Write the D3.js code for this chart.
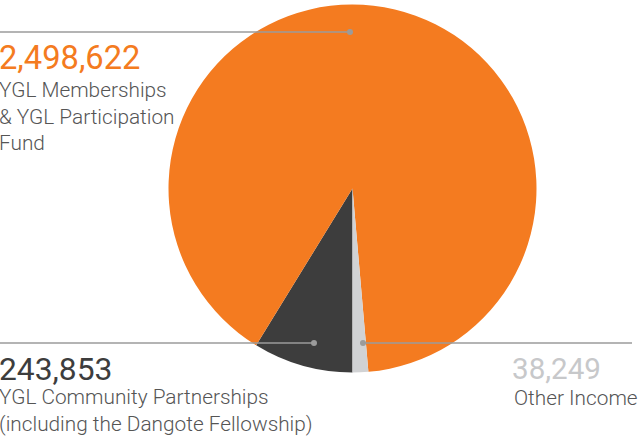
<!DOCTYPE html>
<html>
<head>
<meta charset="utf-8">
<script src="https://cdn.jsdelivr.net/npm/d3@7"></script>
<style>
  body { margin: 0; background: #fff; }
  svg { display: block; }
  .num { font-family: Roboto, "Liberation Sans", sans-serif; font-weight: 400; }
  .lbl { font-family: Roboto, "Liberation Sans", sans-serif; font-weight: 300; font-size: 20.8px; fill: #555; }
</style>
</head>
<body>
<div id="chart"></div>
<script>
// income sources, in pie order (clockwise from the bottom)
var categories = ["YGL Community Partnerships", "YGL Memberships & YGL Participation Fund", "Other Income"];
var values = [243853, 2498622, 38249];
var colors = ["#3d3d3d", "#f47b20", "#d1d2d4"];
var numberColors = ["#3d3d3d", "#f47b20", "#c7c8ca"];
var labelLines = [
    ["YGL Community Partnerships", "(including the Dangote Fellowship)"],
    ["YGL Memberships", "& YGL Participation", "Fund"],
    ["Other Income"]
];

var width = 641, height = 439;
var cx = 352.5, cy = 188.5, radius = 184;

// where each callout sits: leader line, dot and text block
var callouts = [
    { x1: 0, x2: 314, y: 343, dot: 314, tx: -1, ty: 380, size: 31.8, lx: -1, ly: 404 },
    { x1: 0, x2: 350, y: 32, dot: 350, tx: -1, ty: 69, size: 32.7, lx: -1, ly: 97 },
    { x1: 363, x2: 632, y: 343, dot: 363, tx: 512, ty: 379, size: 29.6, lx: 514, ly: 405 }
];

var svg = d3.select("#chart").append("svg")
    .attr("width", width)
    .attr("height", height);

var pie = d3.pie()
    .sort(null)
    .startAngle(Math.PI)
    .endAngle(3 * Math.PI);

var arc = d3.arc()
    .innerRadius(0)
    .outerRadius(radius);

svg.append("g")
    .attr("transform", "translate(" + cx + "," + cy + ")")
  .selectAll("path")
    .data(pie(values))
  .enter().append("path")
    .attr("d", arc)
    .attr("fill", function(d, i) { return colors[i]; });

var fmt = d3.format(",");

var call = svg.selectAll("g.callout")
    .data(values)
  .enter().append("g")
    .attr("class", "callout");

call.append("line")
    .attr("x1", function(d, i) { return callouts[i].x1; })
    .attr("x2", function(d, i) { return callouts[i].x2; })
    .attr("y1", function(d, i) { return callouts[i].y; })
    .attr("y2", function(d, i) { return callouts[i].y; })
    .attr("stroke", "#9b9b9b")
    .attr("stroke-width", 1.3);

call.append("circle")
    .attr("cx", function(d, i) { return callouts[i].dot; })
    .attr("cy", function(d, i) { return callouts[i].y; })
    .attr("r", 3)
    .attr("fill", "#9b9b9b");

call.append("text")
    .attr("class", "num")
    .attr("x", function(d, i) { return callouts[i].tx; })
    .attr("y", function(d, i) { return callouts[i].ty; })
    .style("font-size", function(d, i) { return callouts[i].size + "px"; })
    .attr("fill", function(d, i) { return numberColors[i]; })
    .text(function(d) { return fmt(d); });

call.each(function(d, i) {
    var g = d3.select(this);
    var c = callouts[i];
    g.append("text")
        .attr("class", "lbl")
        .selectAll("tspan")
        .data(labelLines[i])
      .enter().append("tspan")
        .attr("x", c.lx)
        .attr("y", function(t, j) { return c.ly + j * 26.5; })
        .text(function(t) { return t; });
});
</script>
</body>
</html>
